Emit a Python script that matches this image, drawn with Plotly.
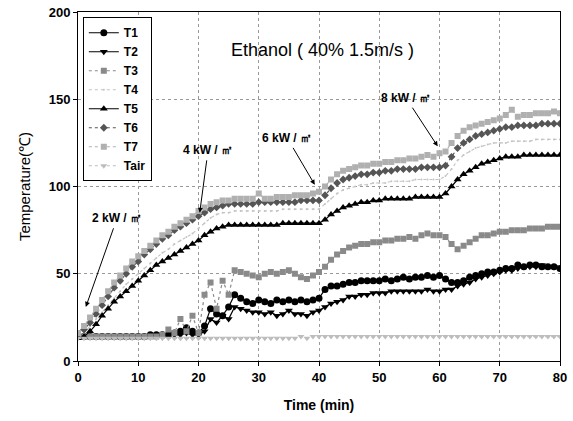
import plotly.graph_objects as go

time_min = list(range(0, 81))

T1 = [14, 14, 14, 14, 14, 14, 14, 14, 14, 14, 14, 14, 15, 15, 15, 15, 16, 17, 19, 17, 16,
      20, 30, 27, 26, 31, 38, 36, 34, 33, 35, 34, 33, 35, 34, 35, 34, 35, 34, 35, 36,
      41, 43, 43, 44, 45, 45, 46, 46, 46, 46, 47, 46, 47, 48, 47, 48, 48, 49, 48, 49,
      47, 45, 45, 46, 48, 49, 50, 51, 51, 52, 53, 53, 55, 54, 55, 55, 54, 54, 54, 53]
T2 = [14, 14, 14, 14, 14, 14, 14, 14, 14, 14, 14, 14, 14, 14, 14, 14, 15, 15, 16, 15, 15,
      17, 24, 22, 26, 24, 31, 30, 29, 28, 28, 27, 28, 26, 27, 29, 27, 27, 26, 28, 29,
      31, 33, 34, 35, 37, 37, 38, 38, 39, 39, 39, 40, 40, 40, 40, 40, 40, 41, 40, 40,
      41, 41, 43, 44, 45, 47, 48, 49, 50, 51, 52, 52, 53, 54, 54, 54, 55, 54, 54, 53]
T3 = [14, 14, 14, 14, 14, 14, 14, 14, 14, 14, 14, 14, 14, 14, 15, 18, 16, 24, 17, 26, 16,
      38, 45, 30, 46, 38, 52, 51, 50, 49, 48, 50, 51, 50, 51, 52, 50, 48, 47, 49, 51,
      54, 58, 61, 63, 65, 66, 67, 67, 68, 68, 69, 69, 70, 70, 71, 70, 72, 73, 72, 72,
      71, 67, 64, 66, 68, 70, 72, 72, 73, 74, 74, 75, 75, 75, 76, 76, 76, 77, 77, 77]
T4 = [14, 16, 20, 24, 28, 32, 36, 40, 44, 47, 50, 53, 56, 59, 62, 64, 67, 69, 71, 73, 76,
      79, 82, 84, 85, 85, 86, 86, 86, 86, 86, 86, 86, 86, 87, 87, 87, 87, 87, 87, 87,
      90, 93, 96, 98, 99, 100, 101, 101, 102, 102, 102, 103, 103, 103, 103, 104, 104, 104, 104, 104,
      106, 110, 115, 118, 120, 122, 123, 124, 125, 125, 125, 126, 126, 126, 126, 127, 127, 127, 127, 127]
T5 = [13, 14, 17, 21, 26, 30, 34, 37, 40, 43, 46, 49, 52, 55, 57, 59, 61, 63, 65, 67, 69,
      72, 74, 76, 77, 78, 78, 78, 78, 78, 78, 78, 78, 78, 79, 79, 79, 79, 79, 79, 79,
      81, 84, 86, 88, 89, 90, 91, 91, 92, 92, 93, 93, 93, 93, 93, 94, 94, 94, 94, 94,
      96, 100, 104, 107, 109, 111, 113, 114, 115, 116, 117, 117, 117, 118, 118, 118, 118, 118, 118, 118]
T6 = [15, 18, 22, 27, 32, 37, 42, 46, 50, 54, 57, 61, 64, 67, 70, 72, 75, 77, 79, 81, 83,
      85, 87, 88, 89, 90, 90, 90, 90, 90, 91, 91, 91, 91, 91, 91, 91, 92, 92, 92, 92,
      95, 99, 102, 104, 105, 106, 107, 107, 108, 108, 109, 109, 110, 110, 110, 110, 111, 111, 111, 111,
      112, 117, 122, 125, 127, 129, 130, 131, 132, 133, 134, 134, 135, 135, 135, 135, 136, 136, 136, 136]
T7 = [16, 20, 25, 30, 35, 40, 45, 49, 53, 57, 60, 63, 66, 69, 72, 74, 77, 79, 81, 83, 86,
      88, 90, 91, 92, 92, 93, 93, 93, 93, 96, 93, 93, 94, 94, 94, 95, 95, 95, 96, 97,
      100, 104, 107, 109, 110, 111, 112, 112, 113, 113, 114, 114, 115, 115, 116, 116, 117, 118, 117, 119,
      120, 125, 129, 132, 134, 135, 136, 137, 138, 139, 141, 144, 140, 141, 141, 142, 142, 142, 143, 142]
Tair = [13, 13, 13, 13, 13, 13, 13, 13, 13, 13, 13, 13, 13, 13, 13, 13, 13, 13, 13, 13, 13,
        13, 13, 13, 13, 13, 13, 13, 13, 13, 13, 13, 13, 13, 13, 13, 13, 14, 13, 14, 14,
        14, 14, 14, 14, 14, 14, 14, 14, 14, 14, 14, 14, 14, 14, 14, 14, 14, 14, 14, 14,
        14, 14, 14, 14, 14, 14, 14, 14, 14, 14, 14, 14, 14, 14, 14, 14, 14, 14, 14, 14]

series = [
    ("T1", T1, "black", "solid", "circle", 7),
    ("T2", T2, "black", "solid", "triangle-down", 7),
    ("T3", T3, "#8a8a8a", "dot", "square-x", 6),
    ("T4", T4, "#c4c4c4", "dot", "circle", 2),
    ("T5", T5, "black", "solid", "triangle-up", 7),
    ("T6", T6, "#555555", "dot", "diamond", 6),
    ("T7", T7, "#b0b0b0", "dot", "square-x", 6),
    ("Tair", Tair, "#bdbdbd", "dot", "triangle-down", 6),
]

fig = go.Figure()
for name, vals, color, dash, sym, size in series:
    fig.add_trace(go.Scatter(
        x=time_min, y=vals, name=name, mode="lines+markers",
        line=dict(color=color, width=1.2, dash=dash),
        marker=dict(symbol=sym, size=size, color=color, line=dict(width=0)),
    ))

annots = [
    ("2 kW / ㎡", 6.5, 82, 1.3, 31),
    ("4 kW / ㎡", 21.6, 121, 20.2, 85),
    ("6 kW / ㎡", 34.7, 128, 39.3, 101),
    ("8 kW / ㎡", 54.4, 151, 59.7, 123),
]
for txt, tx, ty, px, py in annots:
    fig.add_annotation(x=px, y=py, ax=tx, ay=ty, xref="x", yref="y",
                       axref="x", ayref="y", text=txt, showarrow=True,
                       arrowhead=2, arrowsize=1, arrowwidth=1, arrowcolor="black",
                       standoff=0, startstandoff=2,
                       font=dict(family="Liberation Sans", size=12, color="black", weight="bold"))

fig.add_annotation(x=40.6, y=178, xref="x", yref="y", text="Ethanol ( 40% 1.5m/s )",
                   showarrow=False, font=dict(family="Liberation Sans", size=18, color="black"))

axis_common = dict(showline=True, linecolor="black", linewidth=1, mirror=True,
                   ticks="outside", ticklen=4, tickcolor="black",
                   showgrid=True, gridcolor="#999999", griddash="dot", gridwidth=1,
                   zeroline=False, automargin=False,
                   tickfont=dict(family="Liberation Sans", size=13, color="black", weight="bold"))

fig.update_layout(
    width=573, height=421,
    margin=dict(l=78, r=13, t=12, b=60),
    paper_bgcolor="white", plot_bgcolor="white",
    font=dict(family="Liberation Sans", color="black"),
    xaxis=dict(range=[0, 80], dtick=10, tick0=0,
               title=dict(text="Time (min)", font=dict(size=14, weight="bold"), standoff=16),
               **axis_common),
    yaxis=dict(range=[0, 200], dtick=50, tick0=0,
               title=dict(text="Temperature(℃)", font=dict(size=15), standoff=14),
               **axis_common),
    legend=dict(x=0.01, y=0.985, xanchor="left", yanchor="top",
                bgcolor="white", bordercolor="black", borderwidth=1,
                font=dict(family="Liberation Sans", size=12, color="black", weight="bold"),
                tracegroupgap=0, itemwidth=30),
    showlegend=True,
)

# remove the default 8px page margin so the figure fills the window exactly
fig.write_html("out.html", config={"displayModeBar": False},
               post_script="document.body.style.margin='0';")
